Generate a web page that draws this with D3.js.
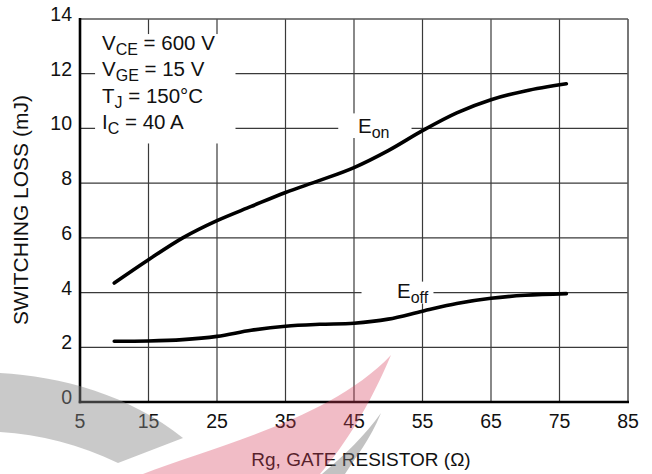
<!DOCTYPE html>
<html><head><meta charset="utf-8">
<script src="https://cdn.jsdelivr.net/npm/d3@7"></script>
<style>
html,body{margin:0;padding:0;background:#fff;}
svg{display:block;font-family:"Liberation Sans",Arial,sans-serif;}
</style></head>
<body><svg id="c" width="652" height="474"></svg>
<script>
const rg   = [10, 15, 20, 25, 30, 35, 40, 45, 50, 55, 60, 65, 70, 76];
const eon  = [4.35, 5.2, 6.0, 6.63, 7.15, 7.66, 8.1, 8.57, 9.19, 9.92, 10.57, 11.05, 11.37, 11.63];
const eoff = [2.22, 2.23, 2.28, 2.4, 2.62, 2.77, 2.84, 2.88, 3.03, 3.32, 3.6, 3.79, 3.9, 3.96];
const xTicks = [5, 15, 25, 35, 45, 55, 65, 75, 85];
const yTicks = [0, 2, 4, 6, 8, 10, 12, 14];
const xTitle = "Rg, GATE RESISTOR (Ω)";
const yTitle = "SWITCHING LOSS (mJ)";
const conditions = [["V","CE"," = 600 V"],["V","GE"," = 15 V"],["T","J"," = 150°C"],["I","C"," = 40 A"]];

const svg = d3.select("#c");
const x = d3.scaleLinear().domain([5, 85]).range([80, 628]);
const y = d3.scaleLinear().domain([0, 14]).range([402, 19]);

// grid
const g = svg.append("g");
g.selectAll(".vx").data(xTicks.slice(1, -1)).join("line")
  .attr("x1", d => x(d)).attr("x2", d => x(d)).attr("y1", y(0)).attr("y2", y(14))
  .attr("stroke", "#3a3a3a").attr("stroke-width", 1.2);
g.selectAll(".hy").data(yTicks.slice(1, -1)).join("line")
  .attr("x1", x(5)).attr("x2", x(85)).attr("y1", d => y(d)).attr("y2", d => y(d))
  .attr("stroke", "#3a3a3a").attr("stroke-width", 1.2);
// top & right frame
g.append("line").attr("x1", x(5)).attr("x2", x(85)).attr("y1", y(14)).attr("y2", y(14))
  .attr("stroke", "#555").attr("stroke-width", 1.6);
g.append("line").attr("x1", x(85)).attr("x2", x(85)).attr("y1", y(14)).attr("y2", y(0))
  .attr("stroke", "#555").attr("stroke-width", 1.6);

// white label boxes
g.append("rect").attr("x", x(7.2)).attr("y", y(13.45)).attr("width", x(27.7) - x(7.2)).attr("height", y(9.45) - y(13.45)).attr("fill", "#fff");
g.append("rect").attr("x", x(42.7)).attr("y", y(10.55)).attr("width", x(53.4) - x(42.7)).attr("height", y(9.65) - y(10.55)).attr("fill", "#fff");
g.append("rect").attr("x", x(46.1)).attr("y", y(4.4)).attr("width", x(56.6) - x(46.1)).attr("height", y(3.6) - y(4.4)).attr("fill", "#fff");

// axes (left & bottom)
svg.append("line").attr("x1", x(5)).attr("x2", x(5)).attr("y1", y(14) - 1).attr("y2", y(0) + 1.2)
  .attr("stroke", "#000").attr("stroke-width", 2.6);
svg.append("line").attr("x1", x(5) - 1.2).attr("x2", x(85) + 1).attr("y1", y(0)).attr("y2", y(0))
  .attr("stroke", "#000").attr("stroke-width", 2.6);

// tick labels
svg.selectAll(".xt").data(xTicks).join("text")
  .attr("x", d => x(d)).attr("y", 428).attr("text-anchor", "middle")
  .attr("font-size", 19.5).attr("fill", "#111").text(d => d);
svg.selectAll(".yt").data(yTicks).join("text")
  .attr("x", 72).attr("y", d => y(d) + 2).attr("text-anchor", "end")
  .attr("font-size", 19.5).attr("fill", "#111").text(d => d);

// titles
svg.append("text").attr("x", 361).attr("y", 466).attr("text-anchor", "middle")
  .attr("font-size", 19).attr("fill", "#111").text(xTitle);
svg.append("text").attr("transform", "translate(28,210) rotate(-90)").attr("text-anchor", "middle")
  .attr("font-size", 21).attr("fill", "#111").text(yTitle);

// conditions
conditions.forEach((c, i) => {
  const t = svg.append("text").attr("x", 102).attr("y", 50 + i * 26.3).attr("font-size", 20.5).attr("fill", "#111");
  t.append("tspan").text(c[0]);
  t.append("tspan").attr("font-size", 16).attr("dy", 5).text(c[1]);
  t.append("tspan").attr("dy", -5).text(c[2]);
});

// curve labels
function subLabel(px, py, main, sub) {
  const t = svg.append("text").attr("x", px).attr("y", py).attr("font-size", 20.5).attr("fill", "#111");
  t.append("tspan").text(main);
  t.append("tspan").attr("font-size", 16).attr("dy", 5).text(sub);
}
subLabel(358, 133, "E", "on");
subLabel(397, 298, "E", "off");

// curves
const line = d3.line().x(d => x(d[0])).y(d => y(d[1])).curve(d3.curveCatmullRom.alpha(0.5));
[eon, eoff].forEach(s => {
  svg.append("path").attr("d", line(rg.map((r, i) => [r, s[i]])))
    .attr("fill", "none").attr("stroke", "#000").attr("stroke-width", 3.6)
    .attr("stroke-linecap", "round").attr("stroke-linejoin", "round");
});

// watermark overlay
const wm = svg.append("g").style("pointer-events", "none");
wm.append("path").attr("d", "M0,373 C60,376 130,395 183,438 L118,463 C80,445 40,434 0,432 Z")
  .attr("fill", "#888").attr("opacity", 0.45);
wm.append("path").attr("d", "M143,474 C210,447 330,420 391,355 C370,405 345,445 320,474 Z")
  .attr("fill", "#d8405c").attr("opacity", 0.35);
wm.append("path").attr("d", "M381,413 C370,440 355,458 345,474 L322,474 C345,455 365,435 381,413 Z")
  .attr("fill", "#777").attr("opacity", 0.45);
</script></body></html>
